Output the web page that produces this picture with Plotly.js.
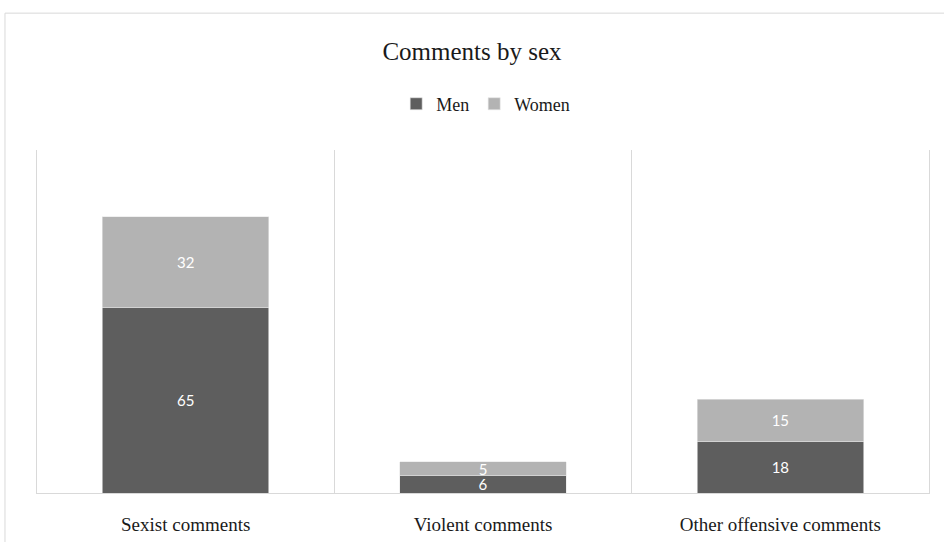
<!DOCTYPE html>
<html>
<head>
<meta charset="utf-8">
<script src="https://cdn.plot.ly/plotly-3.0.1.min.js"></script>
<style>html,body{margin:0;padding:0;background:#fff;}#chart{width:944px;height:542px;}</style>
</head>
<body>
<div id="chart"></div>
<script>
const categories = ["Sexist comments", "Violent comments", "Other offensive comments"];
const men = [65, 6, 18];
const women = [32, 5, 15];
const seriesNames = ["Men", "Women"];

const serif = "Liberation Serif, Times New Roman, serif";
const labelFont = {family: "Lato, Open Sans, sans-serif", size: 15, color: "#ffffff"};

const traces = [
  {type: "bar", name: seriesNames[0], x: categories, y: men, marker: {color: "#5e5e5e", line: {color: "#e6e6e6", width: 0.6}},
   text: men.map(String), textposition: "inside", insidetextanchor: "middle", textangle: 0, constraintext: "none", textfont: labelFont, hoverinfo: "x+y+name"},
  {type: "bar", name: seriesNames[1], x: categories, y: women, marker: {color: "#b3b3b3", line: {color: "#e6e6e6", width: 0.6}},
   text: women.map(String), textposition: "inside", insidetextanchor: "middle", textangle: 0, constraintext: "none", textfont: labelFont, hoverinfo: "x+y+name"}
];

const layout = {
  width: 944, height: 542,
  barmode: "stack", bargap: 0.44,
  margin: {l: 37, r: 15, t: 150, b: 49},
  paper_bgcolor: "#ffffff", plot_bgcolor: "#ffffff",
  title: {text: "Comments by sex", font: {family: serif, size: 25, color: "#1a1a1a"}, x: 0.5, xanchor: "center", y: 0.905, yanchor: "middle"},
  showlegend: true,
  legend: {orientation: "h", x: 0.503, xanchor: "center", y: 1.134, yanchor: "middle", font: {family: serif, size: 18, color: "#1a1a1a"}, itemwidth: 30, tracegroupgap: 0, traceorder: "normal"},
  uniformtext: {minsize: 15, mode: "show"},
  xaxis: {type: "category", tickson: "boundaries", showgrid: true, gridcolor: "#d9d9d9", gridwidth: 1,
          showline: true, linecolor: "#d9d9d9", linewidth: 1, ticks: "", ticklen: 0, ticklabelstandoff: 14,
          tickfont: {family: serif, size: 19, color: "#1a1a1a"}, zeroline: false},
  yaxis: {range: [0, 120.5], showgrid: false, showticklabels: false, zeroline: false, showline: true, mirror: true, linecolor: "#d9d9d9", linewidth: 1, ticks: ""},
  shapes: [
    {type: "rect", xref: "paper", yref: "paper", x0: -0.0359, x1: 1.2, y0: -0.2, y1: 1.399, line: {color: "#d9d9d9", width: 1}, fillcolor: "rgba(0,0,0,0)", layer: "below"}
  ]
};

Plotly.newPlot("chart", traces, layout, {displayModeBar: false, staticPlot: true});
</script>
</body>
</html>
